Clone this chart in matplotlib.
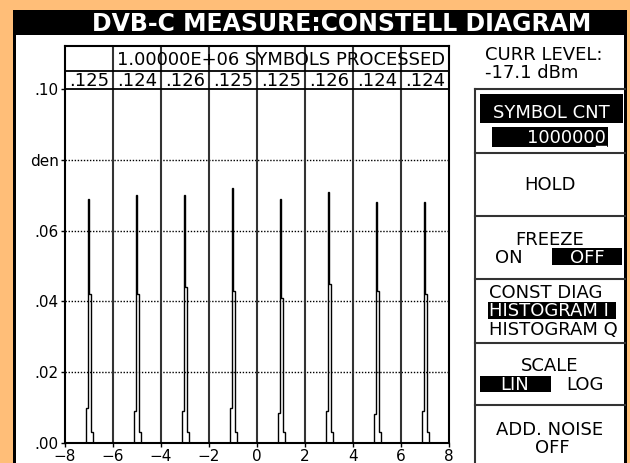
import matplotlib.pyplot as plt
from matplotlib.patches import Rectangle

# I-channel histogram of a 64-QAM signal (8 amplitude levels)
levels = [-7, -5, -3, -1, 1, 3, 5, 7]
peak_top = [0.069, 0.070, 0.070, 0.072, 0.069, 0.071, 0.068, 0.068]
peak_side = [0.042, 0.042, 0.044, 0.043, 0.041, 0.045, 0.043, 0.042]
shoulder = [0.010, 0.009, 0.009, 0.010, 0.0085, 0.009, 0.0083, 0.009]
tail = [0.003, 0.003, 0.003, 0.003, 0.003, 0.003, 0.003, 0.003]
bin_offsets = [-0.13, -0.05, -0.01, 0.09, 0.18]

cell_probs = ['.125', '.124', '.126', '.125', '.125', '.126', '.124', '.124']
symbols_processed = '1.00000E+06 SYMBOLS PROCESSED'
yticks = [0.00, 0.02, 0.04, 0.06, 0.08, 0.10]
ytick_labels = ['.00', '.02', '.04', '.06', 'den', '.10']
xticks = [-8, -6, -4, -2, 0, 2, 4, 6, 8]

plt.rcParams['font.family'] = 'DejaVu Sans'

W, H = 630, 463
fig = plt.figure(figsize=(W / 100, H / 100), dpi=100)
fig.patch.set_facecolor('#FFBE78')

# screen frame, drawn in pixel coordinates
bg = fig.add_axes([0, 0, 1, 1])
bg.set_xlim(0, W)
bg.set_ylim(H, 0)
bg.axis('off')
bg.add_patch(Rectangle((13, 10), 614, 460, fc='black', ec='none'))
bg.add_patch(Rectangle((16, 35), 608, 430, fc='white', ec='none'))
bg.text(342, 31, 'DVB-C MEASURE:CONSTELL DIAGRAM', color='white',
        fontsize=17, fontweight='bold', ha='center', va='baseline')

# right side soft-key panel
lc = '#333333'
bg.plot([475, 475], [89, 463], color=lc, lw=1.5)
for yy in [89, 153, 216, 279, 343, 405]:
    bg.plot([475, 625], [yy, yy], color=lc, lw=1.5)

fs = 13
bg.text(485, 60, 'CURR LEVEL:', fontsize=fs, va='baseline')
bg.text(485, 78, '-17.1 dBm', fontsize=fs, va='baseline')

bg.add_patch(Rectangle((480, 94), 143, 29, fc='black'))
bg.text(551, 118, 'SYMBOL CNT', fontsize=fs, color='white', ha='center', va='baseline')
bg.add_patch(Rectangle((492, 127), 116, 20, fc='black'))
bg.text(606, 143, '1000000', fontsize=fs, color='white', ha='right', va='baseline')
bg.plot([596, 606], [145.5, 145.5], color='white', lw=1)

bg.text(550, 190, 'HOLD', fontsize=fs, ha='center', va='baseline')

bg.text(550, 245, 'FREEZE', fontsize=fs, ha='center', va='baseline')
bg.text(509, 263, 'ON', fontsize=fs, ha='center', va='baseline')
bg.add_patch(Rectangle((552, 248), 70, 17, fc='black'))
bg.text(587, 263, 'OFF', fontsize=fs, color='white', ha='center', va='baseline')

bg.text(489, 298, 'CONST DIAG', fontsize=fs, va='baseline')
bg.add_patch(Rectangle((488, 302), 128, 17, fc='black'))
bg.text(489, 316, 'HISTOGRAM I', fontsize=fs, color='white', va='baseline')
bg.text(489, 335, 'HISTOGRAM Q', fontsize=fs, va='baseline')

bg.text(550, 371, 'SCALE', fontsize=fs, ha='center', va='baseline')
bg.add_patch(Rectangle((480, 376), 71, 16, fc='black'))
bg.text(515, 390, 'LIN', fontsize=fs, color='white', ha='center', va='baseline')
bg.text(585, 390, 'LOG', fontsize=fs, ha='center', va='baseline')

bg.text(550, 435, 'ADD. NOISE', fontsize=fs, ha='center', va='baseline')
bg.text(552, 453, 'OFF', fontsize=fs, ha='center', va='baseline')

# histogram axes: 24 px per unit in x, 3540 px per unit in y
ytop = 397 / 3540
ax = fig.add_axes([65 / W, 20 / H, 384 / W, 397 / H])
ax.set_facecolor('none')
ax.set_xlim(-8, 8)
ax.set_ylim(0, ytop)

ax.hlines(yticks[1:-1], -8, 8, color='black', lw=1, linestyle=(0, (1, 1.2)))
ax.vlines(xticks[1:-1], 0, ytop, color=lc, lw=1.5)
ax.axhline(0.10, color='black', lw=1.3)
ax.axhline(0.1052, color='black', lw=1.3)

for i, lev in enumerate(levels):
    vals = [shoulder[i], peak_top[i], peak_side[i], tail[i]]
    edges = [lev + o for o in bin_offsets]
    ax.stairs(vals, edges, baseline=0, color='black', lw=1.0)

for i, p in enumerate(cell_probs):
    ax.text(xticks[i] + 1, 0.1008, p, fontsize=fs, ha='center', va='baseline')
ax.text(7.85, (443 - 65) / 3540, symbols_processed, fontsize=fs,
        ha='right', va='baseline')

for s in ax.spines.values():
    s.set_linewidth(1.5)
    s.set_color('black')

ax.set_yticks(yticks)
ax.set_yticklabels(ytick_labels)
ax.set_xticks(xticks)
ax.tick_params(axis='y', direction='out', length=3, width=1, pad=1.5, labelsize=11)
ax.tick_params(axis='x', direction='out', length=3, width=1, pad=1, labelsize=11)

fig.savefig('out.png', dpi=100, facecolor=fig.get_facecolor())
